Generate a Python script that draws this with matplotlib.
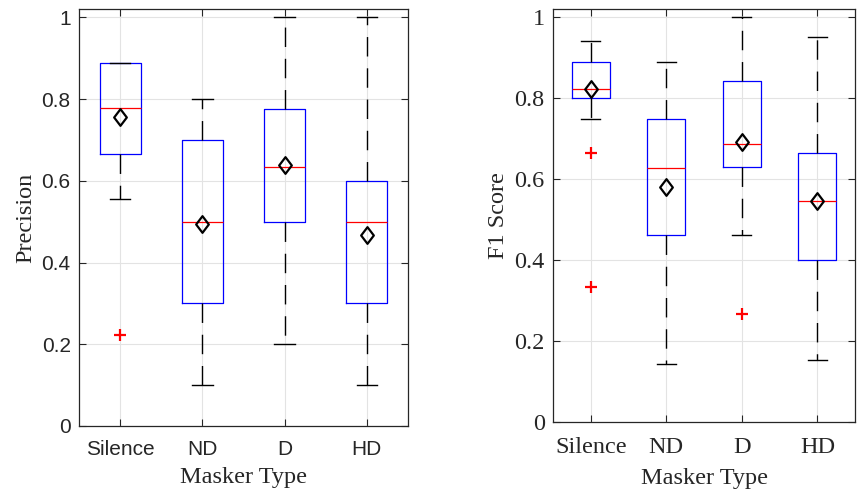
import matplotlib
matplotlib.use("Agg")
import matplotlib.pyplot as plt
from matplotlib.path import Path

categories = ["Silence", "ND", "D", "HD"]

# Precision box statistics
prec_q1 = [0.666, 0.300, 0.500, 0.300]
prec_med = [0.778, 0.500, 0.633, 0.500]
prec_q3 = [0.889, 0.700, 0.777, 0.600]
prec_wlo = [0.555, 0.100, 0.200, 0.100]
prec_whi = [0.889, 0.800, 1.000, 1.000]
prec_mean = [0.756, 0.495, 0.639, 0.468]
prec_fliers = [[0.222], [], [], []]

# F1 score box statistics
f1_q1 = [0.800, 0.461, 0.631, 0.400]
f1_med = [0.823, 0.627, 0.686, 0.545]
f1_q3 = [0.889, 0.750, 0.842, 0.666]
f1_wlo = [0.750, 0.143, 0.461, 0.153]
f1_whi = [0.941, 0.889, 1.000, 0.952]
f1_mean = [0.823, 0.580, 0.691, 0.547]
f1_fliers = [[0.666, 0.333], [], [0.266], []]

yticks = [0, 0.2, 0.4, 0.6, 0.8, 1]
ytick_labels = ["0", "0.2", "0.4", "0.6", "0.8", "1"]

diamond = Path([(0, 1), (0.76, 0), (0, -1), (-0.76, 0), (0, 1)],
               [Path.MOVETO, Path.LINETO, Path.LINETO, Path.LINETO, Path.CLOSEPOLY])


def make_stats(q1, med, q3, wlo, whi, fliers):
    return [dict(q1=a, med=b, q3=c, whislo=d, whishi=e, fliers=f)
            for a, b, c, d, e, f in zip(q1, med, q3, wlo, whi, fliers)]


def draw(ax, stats, means, ylabel, tickfont, ticksize, xpad, xlabelpad):
    pos = list(range(1, len(categories) + 1))
    ax.bxp(stats, positions=pos, widths=0.5, showfliers=True,
           boxprops=dict(color="#0000ff", linewidth=0.9),
           medianprops=dict(color="#ff0000", linewidth=0.9),
           whiskerprops=dict(color="black", linewidth=1.0, linestyle=(0, (14, 8.5))),
           capprops=dict(color="black", linewidth=1.0),
           capwidths=0.25,
           flierprops=dict(marker="+", markeredgecolor="#ff0000", markersize=9,
                           markeredgewidth=1.6, linestyle="none"))
    ax.plot(pos, means, linestyle="none", marker=diamond, markersize=12,
            markerfacecolor="none", markeredgecolor="black", markeredgewidth=1.6,
            zorder=5)
    ax.set_xlim(0.5, 4.5)
    ax.set_ylim(0, 1.021)
    ax.set_xticks(pos)
    ax.set_xticklabels(categories, fontfamily=tickfont, fontsize=ticksize)
    ax.set_yticks(yticks)
    ax.set_yticklabels(ytick_labels, fontfamily=tickfont, fontsize=ticksize)
    ax.grid(True, color="#e3e3e3", linewidth=0.8)
    ax.set_axisbelow(True)
    ax.tick_params(direction="in", length=5, width=0.8, color="#262626",
                   top=True, right=True, labelcolor="#262626", pad=6)
    ax.tick_params(axis="x", pad=xpad)
    for s in ax.spines.values():
        s.set_color("#262626")
        s.set_linewidth(0.9)
    ax.set_xlabel("Masker Type", fontfamily="Liberation Serif", fontsize=17.5,
                  color="#262626", labelpad=xlabelpad)
    ax.set_ylabel(ylabel, fontfamily="Liberation Serif", fontsize=17.5,
                  color="#262626", labelpad=4)


fig = plt.figure(figsize=(8.57, 4.94), dpi=100)
ax1 = fig.add_axes([0.0922, 0.1377, 0.3838, 0.8443])
ax2 = fig.add_axes([0.6453, 0.1457, 0.3525, 0.8363])

draw(ax1, make_stats(prec_q1, prec_med, prec_q3, prec_wlo, prec_whi, prec_fliers),
     prec_mean, "Precision", "Liberation Sans", 15, 10, 6)
draw(ax2, make_stats(f1_q1, f1_med, f1_q3, f1_wlo, f1_whi, f1_fliers),
     f1_mean, "F1 Score", "Liberation Serif", 17.5, 11, 7)

fig.savefig("out.png", dpi=100)
